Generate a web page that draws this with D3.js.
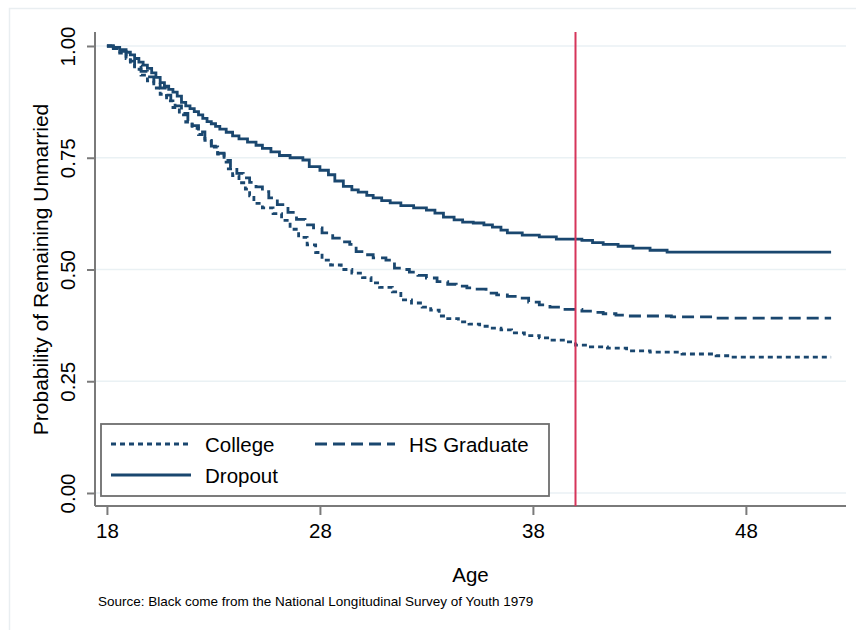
<!DOCTYPE html>
<html>
<head>
<meta charset="utf-8">
<script src="https://cdn.jsdelivr.net/npm/d3@7"></script>
<style>
  html, body { margin: 0; padding: 0; background: #ffffff; }
  svg { display: block; font-family: "Liberation Sans", Arial, Helvetica, sans-serif; }
</style>
</head>
<body>
<svg id="chart" width="856" height="630"></svg>
<script>
// Kaplan-Meier estimates of remaining unmarried, by education group
const collegeAges = [18, 18.3, 18.6, 18.9, 19.1, 19.3, 19.6, 19.9, 20.2, 20.5, 20.8, 21.1, 21.4, 21.7, 22.0, 22.3, 22.6, 22.9, 23.2, 23.5, 23.7, 23.9, 24.2, 24.5, 24.7, 24.9, 25.3, 25.8, 26.2, 26.6, 27.0, 27.4, 27.8, 28.1, 28.5, 29.0, 29.5, 30.0, 30.4, 30.8, 31.4, 31.8, 32.3, 32.8, 33.2, 33.6, 34.0, 34.5, 35.0, 35.5, 36.0, 36.5, 37.0, 37.6, 38.3, 38.9, 39.5, 40.0, 40.7, 41.5, 42.4, 43.5, 45.0, 46.6, 47.4, 52];
const collegeSurv = [1.000, 0.994, 0.984, 0.972, 0.960, 0.948, 0.935, 0.922, 0.906, 0.892, 0.877, 0.862, 0.846, 0.830, 0.816, 0.802, 0.789, 0.774, 0.758, 0.740, 0.725, 0.710, 0.694, 0.680, 0.665, 0.648, 0.638, 0.625, 0.610, 0.590, 0.572, 0.555, 0.538, 0.521, 0.510, 0.500, 0.492, 0.482, 0.470, 0.460, 0.450, 0.432, 0.425, 0.416, 0.409, 0.396, 0.390, 0.383, 0.378, 0.373, 0.369, 0.365, 0.358, 0.352, 0.347, 0.342, 0.338, 0.331, 0.327, 0.324, 0.318, 0.315, 0.311, 0.307, 0.304, 0.304];

const hsAges = [18, 18.3, 18.6, 18.9, 19.1, 19.3, 19.6, 19.9, 20.2, 20.5, 20.8, 21.0, 21.2, 21.5, 21.8, 22.0, 22.3, 22.6, 22.9, 23.2, 23.5, 23.8, 24.1, 24.4, 24.7, 25.0, 25.3, 25.6, 26.0, 26.5, 26.9, 27.3, 27.7, 28.1, 28.6, 29.0, 29.4, 29.7, 30.1, 30.5, 31.1, 31.5, 31.8, 32.2, 32.6, 33.0, 33.5, 34.0, 34.4, 34.9, 35.3, 35.8, 36.3, 36.8, 37.3, 37.8, 38.3, 38.8, 39.3, 40.3, 40.8, 41.3, 41.9, 42.5, 44.5, 46.6, 52];
const hsSurv = [1.000, 0.996, 0.988, 0.977, 0.966, 0.955, 0.943, 0.931, 0.920, 0.906, 0.890, 0.878, 0.866, 0.849, 0.832, 0.822, 0.808, 0.792, 0.776, 0.760, 0.744, 0.728, 0.715, 0.705, 0.695, 0.685, 0.674, 0.660, 0.645, 0.628, 0.612, 0.600, 0.593, 0.582, 0.570, 0.562, 0.556, 0.540, 0.533, 0.526, 0.521, 0.503, 0.500, 0.494, 0.487, 0.481, 0.473, 0.467, 0.463, 0.459, 0.456, 0.447, 0.443, 0.440, 0.436, 0.427, 0.421, 0.416, 0.411, 0.407, 0.404, 0.401, 0.398, 0.396, 0.394, 0.391, 0.391];

const dropoutAges = [18, 18.3, 18.6, 18.9, 19.1, 19.3, 19.5, 19.7, 19.9, 20.1, 20.3, 20.5, 20.7, 20.9, 21.1, 21.3, 21.5, 21.7, 21.9, 22.1, 22.3, 22.5, 22.7, 22.9, 23.1, 23.3, 23.6, 23.9, 24.2, 24.6, 25.0, 25.3, 25.7, 26.1, 26.6, 27.2, 27.5, 28.0, 28.4, 28.7, 29.1, 29.5, 29.8, 30.2, 30.5, 30.9, 31.3, 31.8, 32.4, 33.0, 33.4, 33.8, 34.3, 34.7, 35.2, 35.7, 36.1, 36.5, 36.8, 37.5, 38.3, 39.1, 40.3, 40.8, 41.3, 42.0, 42.7, 43.5, 44.3, 52];
const dropoutSurv = [1.000, 0.997, 0.992, 0.986, 0.980, 0.972, 0.964, 0.957, 0.950, 0.940, 0.930, 0.918, 0.910, 0.903, 0.897, 0.888, 0.874, 0.866, 0.860, 0.853, 0.846, 0.838, 0.831, 0.826, 0.820, 0.814, 0.807, 0.799, 0.792, 0.785, 0.778, 0.771, 0.763, 0.755, 0.750, 0.745, 0.730, 0.722, 0.712, 0.698, 0.686, 0.678, 0.673, 0.666, 0.660, 0.654, 0.649, 0.643, 0.638, 0.633, 0.626, 0.617, 0.611, 0.606, 0.604, 0.600, 0.595, 0.588, 0.582, 0.577, 0.573, 0.568, 0.565, 0.560, 0.556, 0.552, 0.548, 0.543, 0.539, 0.539];

const xTicks = [18, 28, 38, 48];
const yTicks = [0, 0.25, 0.5, 0.75, 1];
const markerAge = 40;

const seriesNames = ["College", "HS Graduate", "Dropout"];
const seriesDash = { "College": "5,4", "HS Graduate": "12,6", "Dropout": null };

const navy = "#1a476f";
const svg = d3.select("#chart");

// faint outer graph-region frame
svg.append("rect")
  .attr("x", 9.5).attr("y", 8.5).attr("width", 900).attr("height", 700)
  .attr("fill", "none").attr("stroke", "#e9eef1").attr("stroke-width", 1.5);

const plotLeft = 95, plotRight = 846, plotTop = 32, plotBottom = 506;
const x = d3.scaleLinear().domain([17.44, 52.7]).range([plotLeft, plotRight]);
const y = d3.scaleLinear().domain([-0.0291, 1.0313]).range([plotBottom, plotTop]);

// horizontal gridlines
svg.append("g").selectAll("line").data(yTicks).join("line")
  .attr("x1", plotLeft).attr("x2", plotRight)
  .attr("y1", d => y(d)).attr("y2", d => y(d))
  .attr("stroke", "#eaf1f4").attr("stroke-width", 1.5);

// axes
const yAxis = svg.append("g")
  .attr("transform", `translate(${plotLeft},0)`)
  .call(d3.axisLeft(y).tickValues(yTicks).tickFormat(d3.format(".2f")).tickSize(8).tickPadding(0));
yAxis.select(".domain").attr("d", `M0,${plotTop}V${plotBottom}`);
yAxis.selectAll("text")
  .attr("x", null).attr("dy", null)
  .attr("text-anchor", "middle")
  .attr("transform", "translate(-20,0) rotate(-90)")
  .attr("font-size", 20.5).attr("fill", "#000");

const xAxis = svg.append("g")
  .attr("transform", `translate(0,${plotBottom})`)
  .call(d3.axisBottom(x).tickValues(xTicks).tickFormat(d3.format("d")).tickSize(9).tickPadding(0));
xAxis.select(".domain").attr("d", `M${plotLeft},0H${plotRight}`);
xAxis.selectAll("text")
  .attr("y", 32).attr("dy", null)
  .attr("font-size", 20.5).attr("fill", "#000");

[yAxis, xAxis].forEach(a => {
  a.select(".domain").attr("stroke", "#7a7a7a").attr("stroke-width", 2);
  a.selectAll(".tick line").attr("stroke", "#7a7a7a").attr("stroke-width", 2);
});

// survival curves
const series = {
  "College": collegeAges.map((a, i) => [a, collegeSurv[i]]),
  "HS Graduate": hsAges.map((a, i) => [a, hsSurv[i]]),
  "Dropout": dropoutAges.map((a, i) => [a, dropoutSurv[i]])
};
const line = d3.line().x(d => x(d[0])).y(d => y(d[1])).curve(d3.curveStepAfter);

seriesNames.forEach(name => {
  svg.append("path")
    .datum(series[name])
    .attr("d", line)
    .attr("fill", "none")
    .attr("stroke", navy)
    .attr("stroke-width", 2.8)
    .attr("stroke-dasharray", seriesDash[name]);
});

// reference line at age 40
svg.append("line")
  .attr("x1", x(markerAge)).attr("x2", x(markerAge))
  .attr("y1", plotTop).attr("y2", plotBottom)
  .attr("stroke", "#d6355a").attr("stroke-width", 2);

// axis titles
svg.append("text")
  .attr("transform", `translate(48,${y(0.5)}) rotate(-90)`)
  .attr("text-anchor", "middle").attr("font-size", 21).attr("fill", "#000")
  .text("Probability of Remaining Unmarried");
svg.append("text")
  .attr("x", (plotLeft + plotRight) / 2).attr("y", 582)
  .attr("text-anchor", "middle").attr("font-size", 20.5).attr("fill", "#000")
  .text("Age");
svg.append("text")
  .attr("x", 98).attr("y", 606)
  .attr("font-size", 13.5).attr("fill", "#000")
  .text("Source: Black come from the National Longitudinal Survey of Youth 1979");

// legend
const legend = svg.append("g");
legend.append("rect")
  .attr("x", 101).attr("y", 424).attr("width", 448).attr("height", 72)
  .attr("fill", "#fff").attr("stroke", "#6e6e6e").attr("stroke-width", 1.8);
const legendItems = [
  { name: "College", lx: 111, ly: 444 },
  { name: "HS Graduate", lx: 315, ly: 444 },
  { name: "Dropout", lx: 111, ly: 475 }
];
legendItems.forEach(it => {
  legend.append("line")
    .attr("x1", it.lx).attr("x2", it.lx + 80)
    .attr("y1", it.ly).attr("y2", it.ly)
    .attr("stroke", navy).attr("stroke-width", 2.8)
    .attr("stroke-dasharray", seriesDash[it.name]);
  legend.append("text")
    .attr("x", it.lx + 94).attr("y", it.ly + 8)
    .attr("font-size", 20.5).attr("fill", "#000")
    .text(it.name);
});
</script>
</body>
</html>
